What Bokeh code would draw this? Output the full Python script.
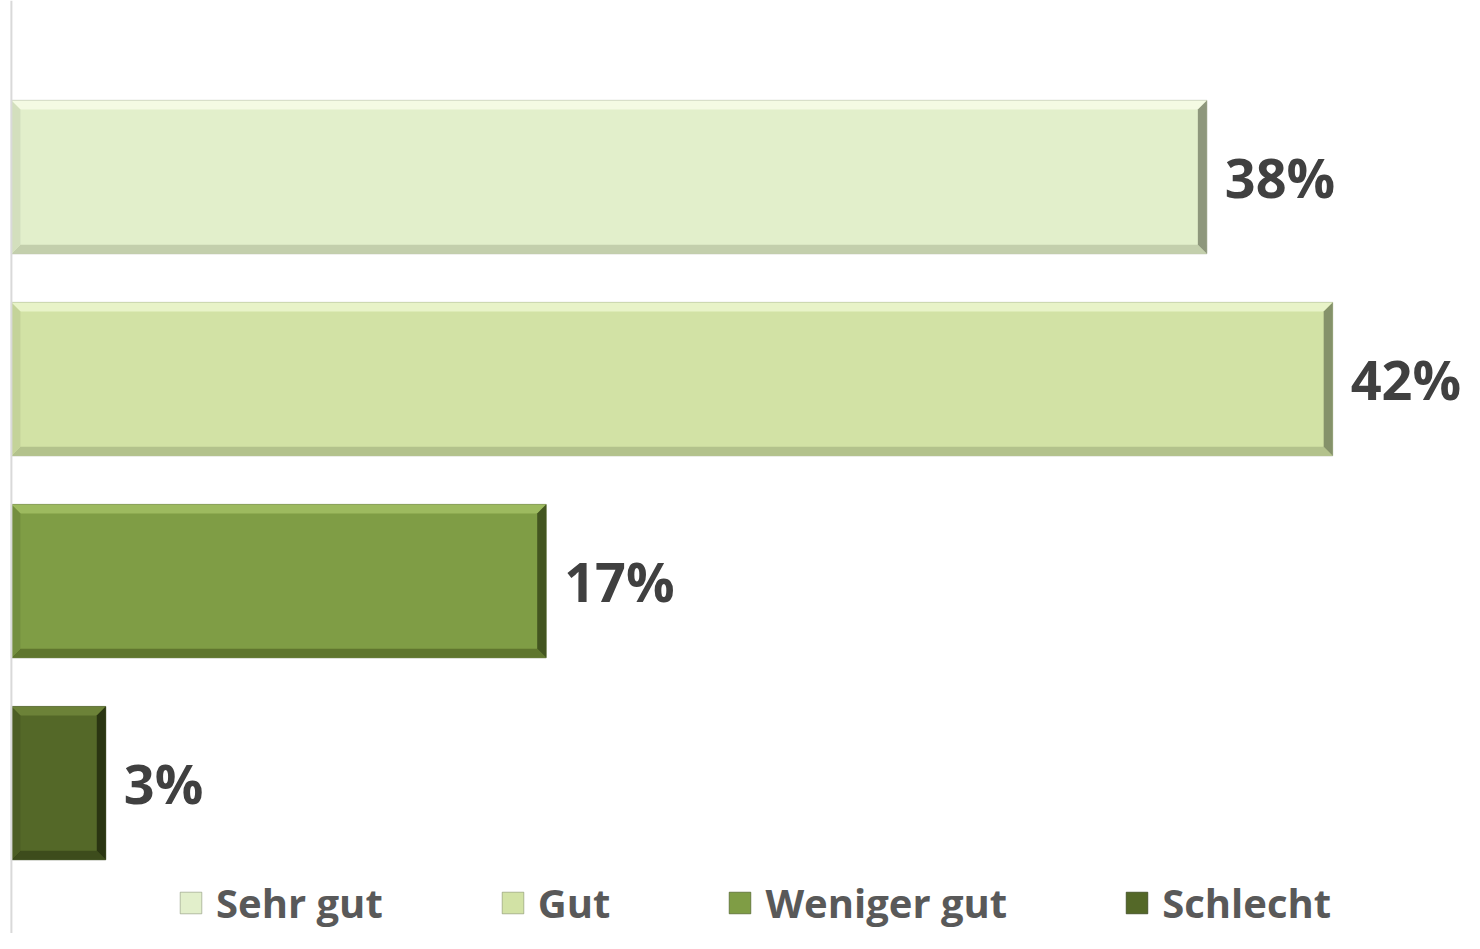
from bokeh.plotting import figure
from bokeh.models import Legend, LegendItem, Span, ColumnDataSource
from bokeh.core.properties import value
from bokeh.embed import file_html
from bokeh.resources import INLINE

# ---- data ----
categories = ["Sehr gut", "Gut", "Weniger gut", "Schlecht"]
percent = [38, 42, 17, 3]
positions = [3, 2, 1, 0]
labels = ["38%", "42%", "17%", "3%"]

# ---- styles ----
main_colors = ["#E2EFCB", "#D2E2A5", "#7F9D45", "#546828"]
top_colors = ["#F4FAE3", "#E8F3C8", "#9DBA5F", "#6C8238"]
bottom_colors = ["#C3CFAC", "#B3C28C", "#5F762E", "#3D4C1C"]
right_colors = ["#8E977C", "#85926A", "#435520", "#2A3512"]
left_colors = ["#D3DFBD", "#C4D399", "#748F3F", "#4C5E24"]

W, H = 1464, 933
x_start, x_end = -0.3465, 46.19
y_start, y_end = -0.7444, 3.874
px_x = W / (x_end - x_start)
px_y = H / (y_end - y_start)
half = 0.3796
bx = 9 / px_x
by = 9 / px_y

p = figure(width=W, height=H, x_range=(x_start, x_end), y_range=(y_start, y_end),
           x_axis_type=None, y_axis_type=None, output_backend="svg",
           toolbar_location=None, min_border=0, outline_line_color=None)
p.grid.visible = False
p.background_fill_color = "white"

axis_line = Span(location=0, dimension="height", line_color="#D9D9D9", line_width=2)
p.add_layout(axis_line)

items = []
for i, cat in enumerate(categories):
    v = percent[i]
    y = positions[i]
    t, b = y + half, y - half
    r = p.quad(left=[0], right=[v], bottom=[b], top=[t], fill_color=main_colors[i],
               line_color=right_colors[i], line_width=1, line_alpha=0.6)
    # bevel faces
    p.patch([0, v, v - bx, bx], [t, t, t - by, t - by], fill_color=top_colors[i], line_color=None)
    p.patch([0, v, v - bx, bx], [b, b, b + by, b + by], fill_color=bottom_colors[i], line_color=None)
    p.patch([0, 0, bx, bx], [t, b, b + by, t - by], fill_color=left_colors[i], line_color=None)
    p.patch([v, v, v - bx, v - bx], [t, b, b + by, t - by], fill_color=right_colors[i], line_color=None)
    items.append(LegendItem(label=cat, renderers=[r]))

src = ColumnDataSource(dict(x=percent, y=positions, t=labels))
p.text(x="x", y="y", text="t", source=src, x_offset=18, text_baseline="middle",
       text_align="left", text_font=value("Open Sans"), text_font_style="bold",
       text_font_size="54px", text_color="#404040")

legend = Legend(items=items, orientation="horizontal", location=(177, 3),
                spacing=116, label_standoff=12, glyph_width=27, glyph_height=27,
                padding=0, margin=0, border_line_color=None, background_fill_alpha=0,
                label_text_font="Open Sans", label_text_font_style="bold",
                label_text_font_size="40px", label_text_color="#595959")
p.add_layout(legend)

open("out.html", "w").write(file_html(p, INLINE))
